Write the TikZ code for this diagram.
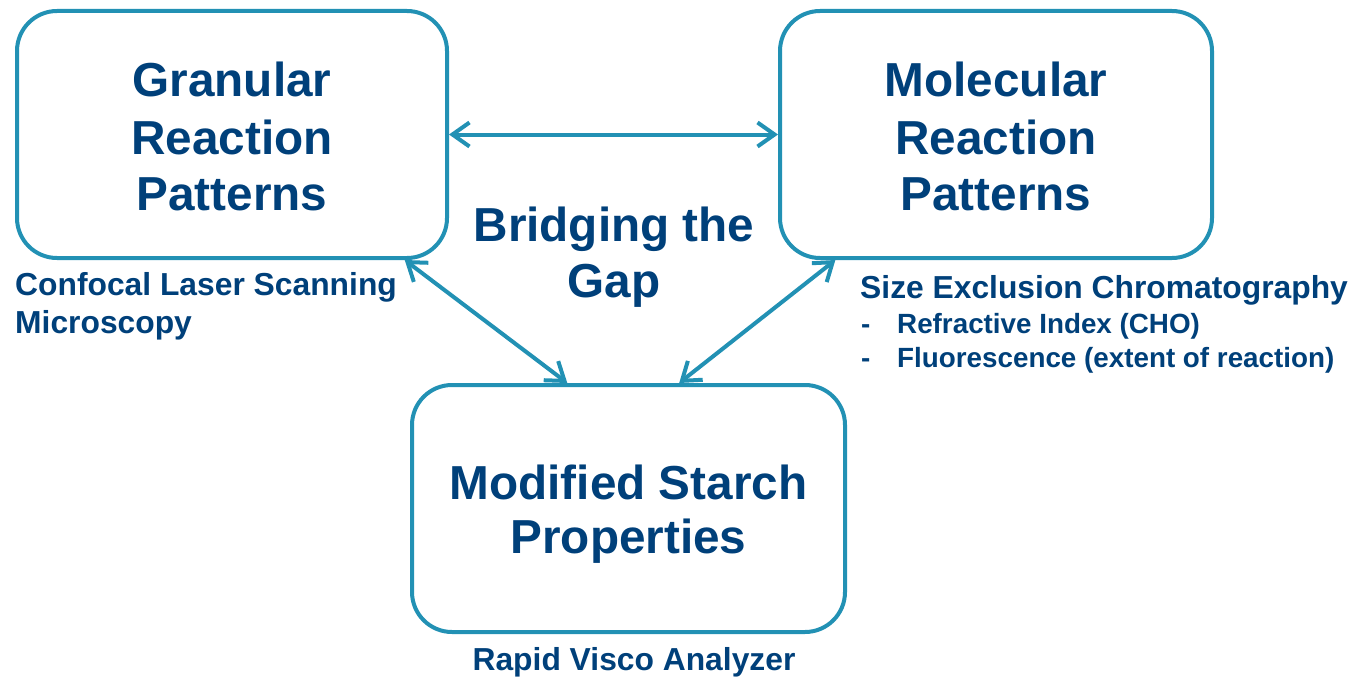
\documentclass[tikz,border=0pt]{standalone}
\usepackage{fontspec}
\setmainfont{Liberation Sans}
\usetikzlibrary{arrows.meta}
\definecolor{boxc}{HTML}{2291B4}
\definecolor{txtc}{HTML}{00407A}
\tikzset{
  box/.style={draw=boxc, line width=4pt, rounded corners=40pt, minimum width=430pt, minimum height=247pt, inner sep=0pt, text=txtc, font=\bfseries\fontsize{47.5}{57}\selectfont, align=center},
  conn/.style={draw=boxc, line width=4pt, line cap=round, {Straight Barb[length=17pt,width=24pt,line width=4pt]}-{Straight Barb[length=17pt,width=24pt,line width=4pt]}},
  lbl/.style={text=txtc, font=\bfseries\fontsize{31.8}{38}\selectfont, inner sep=0pt},
  sub/.style={text=txtc, font=\bfseries\fontsize{27.8}{34}\selectfont, inner sep=0pt, anchor=base west},
  big/.style={text=txtc, font=\bfseries\fontsize{47.7}{56}\selectfont, anchor=base, inner sep=0pt},
}
\begin{document}
\begin{tikzpicture}[x=1pt,y=-1pt]
\useasboundingbox (0,0) rectangle (1357,677);
\node[box] (L) at (232,134.5) {};
\node[box, minimum width=432pt] (R) at (996,134.5) {};
\node[box, minimum width=433pt] (B) at (628.5,508.5) {};
\node[big] (L1) at (232,96) {Granular};
\node[big] (L2) at (232,154) {Reaction};
\node[big] (L3) at (232,210) {Patterns};
\node[big] (R1) at (996,96) {Molecular};
\node[big] (R2) at (996,154) {Reaction};
\node[big] (R3) at (996,210) {Patterns};
\node[big] (B1) at (628.5,499) {Modified Starch};
\node[big] (B2) at (628.5,553) {Properties};
\node[big] (G1) at (614,241) {Bridging the};
\node[big] (G2) at (614,297) {Gap};
\node[lbl, anchor=base west] (cl1) at (15,295) {Confocal Laser Scanning};
\node[lbl, anchor=base west] (cl2) at (15,333) {Microscopy};
\node[lbl, anchor=base west] (se) at (860,298) {Size Exclusion Chromatography};
\node[sub] (d1) at (861,333) {-};
\node[sub] (ri) at (897,333) {Refractive Index (CHO)};
\node[sub] (d2) at (861,367) {-};
\node[sub] (fl) at (897,367) {Fluorescence (extent of reaction)};
\node[lbl, anchor=base] (rv) at (634,670) {Rapid Visco Analyzer};
\draw[conn] (L.east) -- (R.west);
\draw[conn] (L.-36.8) -- (B.116.8);
\draw[conn] (R.-142) -- (B.68.9);
\end{tikzpicture}
\end{document}
